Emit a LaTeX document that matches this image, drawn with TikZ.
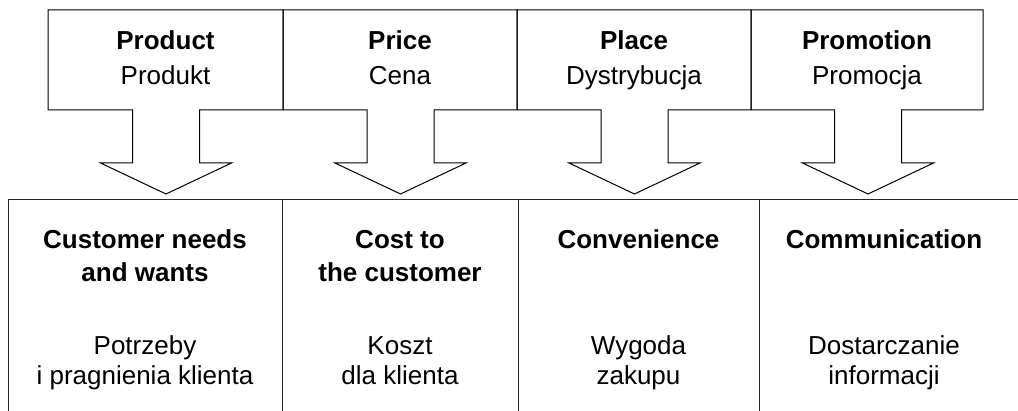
\documentclass[tikz,border=0pt]{standalone}
\usepackage{fontspec}
\setmainfont{Liberation Sans}
\begin{document}
\begin{tikzpicture}[x=1pt,y=-1pt,
  outline/.style={draw=black,line width=1pt,line join=miter},
  gridline/.style={draw=black!85,line width=1pt},
  bold/.style={inner sep=0pt,anchor=base,font=\fontsize{26}{30}\selectfont\bfseries},
  plain/.style={inner sep=0pt,anchor=base,font=\fontsize{26}{30}\selectfont}]
\useasboundingbox (0,0) rectangle (1018,411);
% arrow callout: #1 left, #2 right, #3 centre
\newcommand{\arrowbox}[3]{%
  \draw[outline] (#1,10) -- (#2,10) -- (#2,110) -- (#3+33.5,110) -- (#3+33.5,163)
    -- (#3+65.5,163) -- (#3,194) -- (#3-65.5,163) -- (#3-33.5,163)
    -- (#3-33.5,110) -- (#1,110) -- cycle;}
\arrowbox{48}{283}{166}
\arrowbox{283}{517}{400.5}
\arrowbox{517}{751}{634.5}
\arrowbox{751}{983}{868}
% top labels
\node[bold]  (t1a) at (165.5,50) {Product};
\node[plain] (t1b) at (165.5,85) {Produkt};
\node[bold]  (t2a) at (400,50) {Price};
\node[plain] (t2b) at (400,85) {Cena};
\node[bold]  (t3a) at (634,50) {Place};
\node[plain] (t3b) at (634,85) {Dystrybucja};
\node[bold]  (t4a) at (867,50) {Promotion};
\node[plain] (t4b) at (867,85) {Promocja};
% bottom row frame
\coordinate (g0) at (8,200);
\coordinate (g1) at (282,200);
\coordinate (g2) at (518,200);
\coordinate (g3) at (759,200);
\coordinate (gr) at (1018,200);
\draw[gridline] (g0) -- (gr);
\foreach \c in {g0,g1,g2,g3}{\draw[gridline] (\c) -- (\c |- 0,411);}
% bottom labels
\node[bold]  (b1a) at (145,249) {Customer needs};
\node[bold]  (b1b) at (145,282) {and wants};
\node[plain] (b1c) at (145,355) {Potrzeby};
\node[plain] (b1d) at (145,385) {i pragnienia klienta};
\node[bold]  (b2a) at (400,249) {Cost to};
\node[bold]  (b2b) at (400,282) {the customer};
\node[plain] (b2c) at (400,355) {Koszt};
\node[plain] (b2d) at (400,385) {dla klienta};
\node[bold]  (b3a) at (638.5,249) {Convenience};
\node[plain] (b3c) at (638.5,355) {Wygoda};
\node[plain] (b3d) at (638.5,385) {zakupu};
\node[bold]  (b4a) at (884,249) {Communication};
\node[plain] (b4c) at (884,355) {Dostarczanie};
\node[plain] (b4d) at (884,385) {informacji};
\end{tikzpicture}
\end{document}
